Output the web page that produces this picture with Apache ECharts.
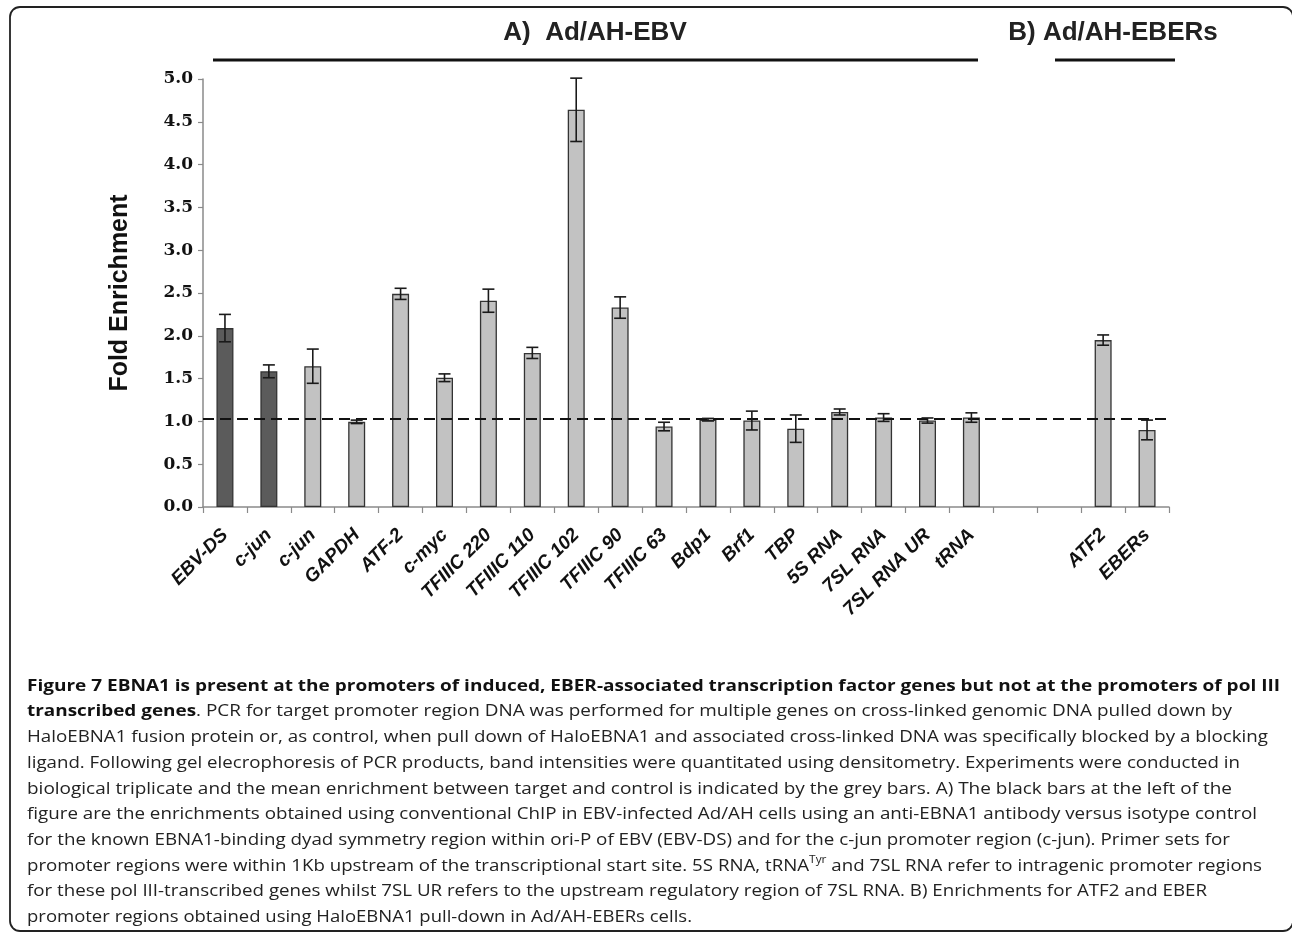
<!DOCTYPE html>
<html>
<head>
<meta charset="utf-8">
<script src="https://cdn.jsdelivr.net/npm/echarts@6/dist/echarts.min.js"></script>
<style>
html,body{margin:0;padding:0;background:#fff;}
#chart{width:1292px;height:932px;}
</style>
</head>
<body>
<div id="chart"></div>
<script>
// ---- data ----
const categories = ['EBV-DS','c-jun','c-jun','GAPDH','ATF-2','c-myc','TFIIIC 220','TFIIIC 110','TFIIIC 102','TFIIIC 90','TFIIIC 63','Bdp1','Brf1','TBP','5S RNA','7SL RNA','7SL RNA UR','tRNA','','','ATF2','EBERs'];
const foldEnrichment = [2.09,1.585,1.645,0.995,2.49,1.51,2.41,1.80,4.64,2.33,0.94,1.02,1.01,0.915,1.11,1.045,1.01,1.045,null,null,1.95,0.90];
const errorSize = [0.16,0.075,0.20,0.02,0.065,0.045,0.135,0.065,0.37,0.125,0.05,0.015,0.11,0.16,0.035,0.045,0.03,0.055,null,null,0.06,0.115];
const method = ['ChIP','ChIP','Halo','Halo','Halo','Halo','Halo','Halo','Halo','Halo','Halo','Halo','Halo','Halo','Halo','Halo','Halo','Halo','','','Halo','Halo'];
const baselineValue = 1.03;
const yTicks = [0,0.5,1.0,1.5,2.0,2.5,3.0,3.5,4.0,4.5,5.0];
const panelA = 'A)  Ad/AH-EBV';
const panelB = 'B) Ad/AH-EBERs';
const captionLines = [
  [['b','Figure 7 EBNA1 is present at the promoters of induced, EBER-associated transcription factor genes but not at the promoters of pol III']],
  [['b','transcribed genes'],['r','. PCR for target promoter region DNA was performed for multiple genes on cross-linked genomic DNA pulled down by']],
  [['r','HaloEBNA1 fusion protein or, as control, when pull down of HaloEBNA1 and associated cross-linked DNA was specifically blocked by a blocking']],
  [['r','ligand. Following gel elecrophoresis of PCR products, band intensities were quantitated using densitometry. Experiments were conducted in']],
  [['r','biological triplicate and the mean enrichment between target and control is indicated by the grey bars. A) The black bars at the left of the']],
  [['r','figure are the enrichments obtained using conventional ChIP in EBV-infected Ad/AH cells using an anti-EBNA1 antibody versus isotype control']],
  [['r','for the known EBNA1-binding dyad symmetry region within ori-P of EBV (EBV-DS) and for the c-jun promoter region (c-jun). Primer sets for']],
  [['r','promoter regions were within 1Kb upstream of the transcriptional start site. 5S RNA, tRNA'],['s','Tyr'],['r',' and 7SL RNA refer to intragenic promoter regions']],
  [['r','for these pol III-transcribed genes whilst 7SL UR refers to the upstream regulatory region of 7SL RNA. B) Enrichments for ATF2 and EBER']],
  [['r','promoter regions obtained using HaloEBNA1 pull-down in Ad/AH-EBERs cells.']]
];
const captionRightEdge = [1280,1232,1268,1240,1232,1257,1230,1262,1207,692];

// ---- layout / style ----
const capFont = '"Open Sans", "Noto Sans", sans-serif';
const capSize = 16.5;
const fonts = {
  b: {fontWeight:'bold', fontSize:capSize},
  r: {fontWeight:'normal', fontSize:capSize},
  s: {fontWeight:'normal', fontSize:10.5}
};
const ctx = document.createElement('canvas').getContext('2d');
function measure(seg){
  const f = fonts[seg[0]];
  ctx.font = f.fontWeight + ' ' + f.fontSize + 'px ' + capFont;
  return ctx.measureText(seg[1]).width;
}
const capX = 27, capY0 = 686, capDY = 25.7;
const graphics = [];
captionLines.forEach((segs, i) => {
  let w = 0; segs.forEach(s => w += measure(s));
  const sx = (captionRightEdge[i] - capX) / w;
  const text = segs.map(s => '{' + s[0] + '|' + s[1] + '}').join('');
  graphics.push({
    type:'text', x: capX, y: capY0 + i*capDY, scaleX: sx, silent:true,
    style:{
      text: text, x:0, y:0, verticalAlign:'middle', align:'left', fill:'#111',
      fontFamily: capFont, fontSize: capSize,
      rich:{
        b:{fontFamily:capFont, fontSize:capSize, fontWeight:'bold', fill:'#111', lineHeight:22},
        r:{fontFamily:capFont, fontSize:capSize, fontWeight:'normal', fill:'#222', lineHeight:22},
        s:{fontFamily:capFont, fontSize:10.5, fill:'#222', lineHeight:22, verticalAlign:'top', padding:[0,0,10,0]}
      }
    }
  });
});
// panel headers
const headFont = 'bold 26px "Liberation Sans", Arial, sans-serif';
graphics.push({type:'text', x:595, y:33, silent:true, style:{text:panelA, align:'center', verticalAlign:'middle', font:headFont, fill:'#222'}});
graphics.push({type:'line', silent:true, shape:{x1:213,y1:60,x2:978,y2:60}, style:{stroke:'#111', lineWidth:3}});
graphics.push({type:'text', x:1113, y:33, silent:true, style:{text:panelB, align:'center', verticalAlign:'middle', font:headFont, fill:'#222'}});
graphics.push({type:'line', silent:true, shape:{x1:1055,y1:60,x2:1175,y2:60}, style:{stroke:'#111', lineWidth:3}});
// frame
graphics.push({type:'rect', silent:true, shape:{x:10,y:7,width:1283,height:924,r:10}, style:{fill:'none', stroke:'#222', lineWidth:1.8}});

const barData = foldEnrichment.map((v,i) => v == null ? '-' : {
  value: v,
  itemStyle: {color: method[i] === 'ChIP' ? '#5b5b5b' : '#c2c2c2'}
});
const errData = [];
foldEnrichment.forEach((v,i) => { if (v != null) errData.push([i, v - errorSize[i], v + errorSize[i]]); });

const chart = echarts.init(document.getElementById('chart'), null, {renderer:'canvas'});
chart.setOption({
  backgroundColor:'#fff',
  animation:false,
  grid:{left:203, right:123, top:79, bottom:425, containLabel:false},
  xAxis:{
    type:'category', data:categories, boundaryGap:true,
    axisLine:{show:true, lineStyle:{color:'#8a8a8a', width:1.5}},
    axisTick:{show:true, length:6, lineStyle:{color:'#8a8a8a', width:1.2}, interval:0},
    axisLabel:{interval:0, rotate:45, margin:25, color:'#111', fontFamily:'"Liberation Sans", Arial, sans-serif', fontWeight:'bold', fontStyle:'italic', fontSize:19}
  },
  yAxis:{
    type:'value', min:0, max:5, interval:0.5,
    name:'Fold Enrichment', nameLocation:'middle', nameGap:70, nameRotate:90,
    nameTextStyle:{fontFamily:'"Liberation Sans", Arial, sans-serif', fontWeight:'bold', fontSize:25, color:'#111'},
    axisLine:{show:true, lineStyle:{color:'#8a8a8a', width:1.5}},
    axisTick:{show:true, length:5, lineStyle:{color:'#8a8a8a', width:1.2}},
    splitLine:{show:false},
    axisLabel:{margin:10, color:'#111', fontFamily:'"DejaVu Serif", serif', fontWeight:'bold', fontSize:17,
      formatter: v => yTicks.indexOf(v) >= 0 ? v.toFixed(1) : ''}
  },
  series:[
    {
      type:'bar', data:barData, barWidth:17,
      itemStyle:{borderColor:'#333', borderWidth:1.3},
      markLine:{
        silent:true, symbol:'none', label:{show:false},
        lineStyle:{color:'#111', type:[11,6], width:2},
        data:[{yAxis: baselineValue}]
      }
    },
    {
      type:'custom', data:errData, z:5,
      renderItem:function(params, api){
        const x = api.value(0);
        const lo = api.coord([x, api.value(1)]);
        const hi = api.coord([x, api.value(2)]);
        const hw = 6;
        const st = {stroke:'#1a1a1a', lineWidth:1.6};
        return {type:'group', children:[
          {type:'line', shape:{x1:lo[0],y1:lo[1],x2:hi[0],y2:hi[1]}, style:st},
          {type:'line', shape:{x1:lo[0]-hw,y1:lo[1],x2:lo[0]+hw,y2:lo[1]}, style:st},
          {type:'line', shape:{x1:hi[0]-hw,y1:hi[1],x2:hi[0]+hw,y2:hi[1]}, style:st}
        ]};
      }
    }
  ],
  graphic: graphics
});
</script>
</body>
</html>
